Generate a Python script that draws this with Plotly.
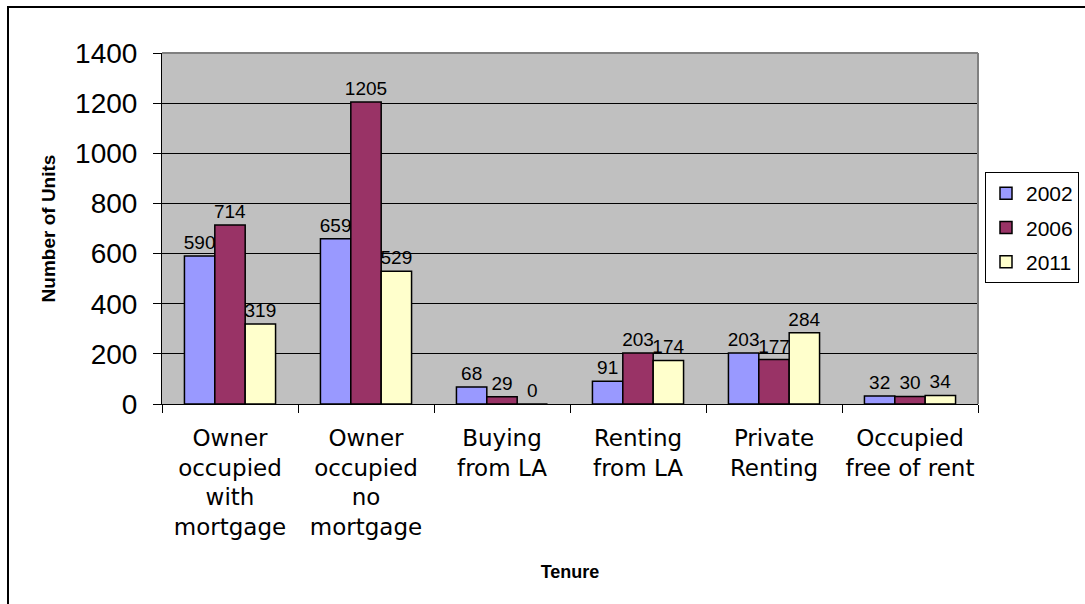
import plotly.graph_objects as go

categories = ["Owner<br>occupied<br>with<br>mortgage", "Owner<br>occupied<br>no<br>mortgage",
              "Buying<br>from LA", "Renting<br>from LA", "Private<br>Renting", "Occupied<br>free of rent"]
years = ["2002", "2006", "2011"]
values_2002 = [590, 659, 68, 91, 203, 32]
values_2006 = [714, 1205, 29, 203, 177, 30]
values_2011 = [319, 529, 0, 174, 284, 34]
colors = ["#9999FF", "#993366", "#FFFFCC"]
y_ticks = [0, 200, 400, 600, 800, 1000, 1200, 1400]

series = [values_2002, values_2006, values_2011]

fig = go.Figure()
for i, (name, vals) in enumerate(zip(years, series)):
    fig.add_trace(go.Bar(
        x=categories, y=vals, name=name, legendgroup=name,
        marker=dict(color=colors[i], line=dict(color="black", width=1.5)),
        text=[str(v) for v in vals], textposition="outside",
        textfont=dict(family="Liberation Sans, Arial", size=19, color="black"),
        constraintext="none", cliponaxis=False,
    ))

W, H = 1085, 604
L, R, T, B = 162, 978, 53, 404
pw, ph = R - L, B - T

def px(x):
    return (x - L) / pw

def py(y):
    return (B - y) / ph

fig.update_layout(
    width=W, height=H,
    margin=dict(l=L, r=W - R, t=T, b=H - B, autoexpand=False),
    paper_bgcolor="white", plot_bgcolor="#C0C0C0",
    barmode="group", bargap=0.33, bargroupgap=0,
    font=dict(family="Liberation Sans, Arial", color="black"),
    legend=dict(x=px(985), y=py(172), xanchor="left", yanchor="top",
                bordercolor="black", borderwidth=1, bgcolor="white",
                font=dict(size=21, family="Liberation Sans, Arial"),
                traceorder="grouped", tracegroupgap=4, itemwidth=30),
    xaxis=dict(type="category", tickson="boundaries", ticks="outside", ticklen=8,
               tickcolor="black", showline=True, linecolor="black", linewidth=1,
               tickangle=0,
               tickfont=dict(family="DejaVu Sans", size=23), ticklabelstandoff=13,
               title=dict(text="<b>Tenure</b>", font=dict(size=18), standoff=26),
               automargin=False),
    yaxis=dict(range=[0, 1400], tickvals=y_ticks, ticks="outside", ticklen=8,
               tickcolor="black", showline=True, linecolor="black", linewidth=1,
               gridcolor="black", gridwidth=1, zeroline=False,
               tickfont=dict(size=28), ticklabelstandoff=10,
               title=dict(text="<b>Number of Units</b>", font=dict(size=19), standoff=14),
               automargin=False),
    shapes=[
        dict(type="rect", xref="paper", yref="paper", x0=px(8), x1=px(1095),
             y0=py(620), y1=py(7), line=dict(color="black", width=2), layer="below"),
        dict(type="line", xref="paper", yref="paper", x0=1, x1=1, y0=0, y1=1,
             line=dict(color="#808080", width=2)),
        dict(type="line", xref="paper", yref="paper", x0=0, x1=1, y0=1, y1=1,
             line=dict(color="#808080", width=2)),
    ],
)

fig.write_html("out.html")
